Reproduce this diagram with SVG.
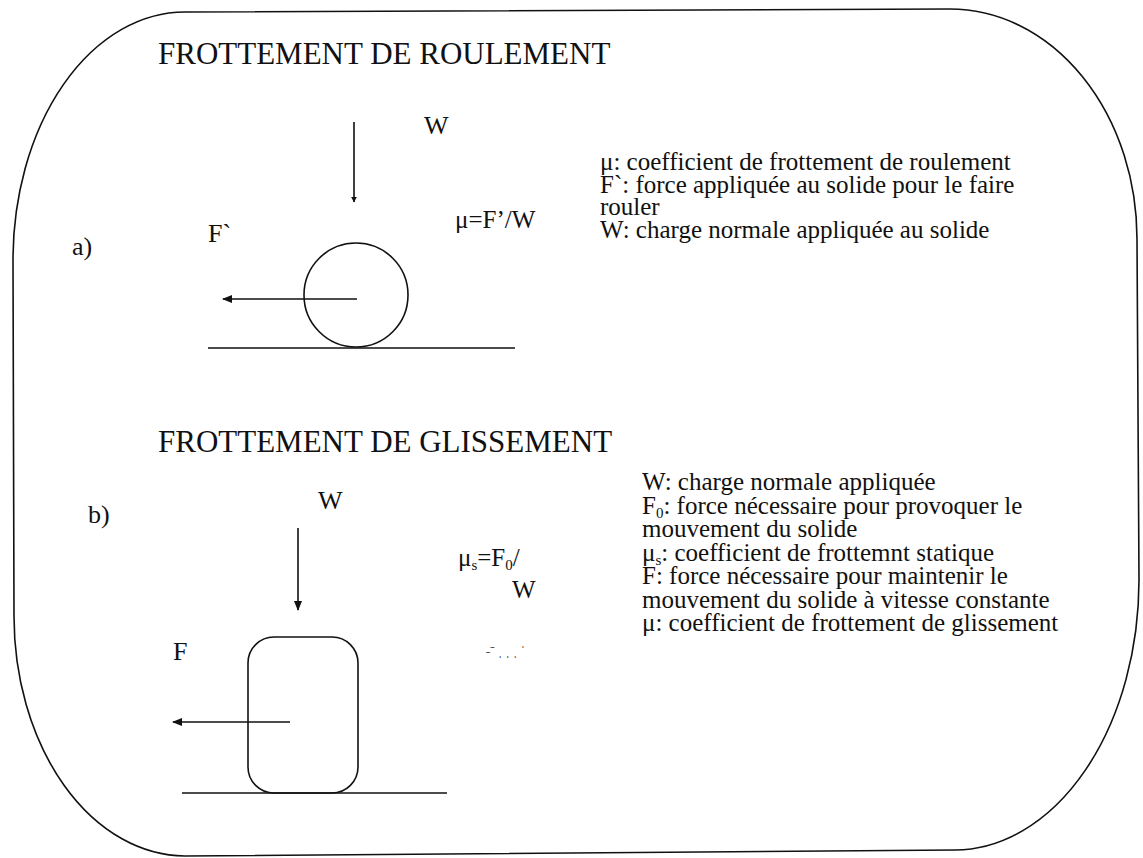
<svg xmlns="http://www.w3.org/2000/svg" width="1143" height="858" viewBox="0 0 1143 858">
<style>
text{font-family:"Liberation Serif","Times New Roman",serif;fill:#111}
.title{font-size:31px}
.lbl{font-size:26px}
.leg{font-size:25px}
.ln{stroke:#111;stroke-width:1.6;fill:none}
</style>
<defs>
<marker id="ah" viewBox="0 0 10 10" refX="9" refY="5" markerWidth="6" markerHeight="6" orient="auto" markerUnits="userSpaceOnUse">
<path d="M0,0 L10,5 L0,10 Z" fill="#111"/>
</marker>
<marker id="ah2" viewBox="0 0 10 10" refX="9" refY="5" markerWidth="10" markerHeight="10" orient="auto" markerUnits="userSpaceOnUse">
<path d="M0,1 L10,5 L0,9 Z" fill="#111"/>
</marker>
</defs>
<rect width="1143" height="858" fill="#fff"/>
<g id="border">
<path class="ln" stroke-width="2" d="M185 12 L950 9 A187 230 0 0 1 1137 240 L1139 580 A185 270 0 0 1 955 850 L185 856 A172 240 0 0 1 14 616 L13 260 A172 248 0 0 1 185 12 Z"/>
</g>
<g id="title-roulement"><text class="title" x="158" y="64">FROTTEMENT DE ROULEMENT</text></g>
<g id="label-a"><text class="lbl" x="72" y="255">a)</text></g>
<g id="wheel">
<circle class="ln" cx="356" cy="295" r="52"/>
</g>
<g id="ground-a"><line class="ln" x1="208" y1="348" x2="515" y2="348"/></g>
<g id="label-W-a"><text class="lbl" x="424" y="134">W</text></g>
<g id="label-F-a"><text class="lbl" x="208" y="242">F`</text></g>
<g id="formula-a"><text class="leg" x="455" y="228">μ=F’/W</text></g>
<g id="legend-a">
<text class="leg" x="600" y="170">μ: coefficient de frottement de roulement</text>
<text class="leg" x="600" y="192.5">F`: force appliquée au solide pour le faire</text>
<text class="leg" x="600" y="215">rouler</text>
<text class="leg" x="600" y="237.5">W: charge normale appliquée au solide</text>
</g>
<g id="title-glissement"><text class="title" x="158" y="452">FROTTEMENT DE GLISSEMENT</text></g>
<g id="label-b"><text class="lbl" x="88" y="523">b)</text></g>
<g id="block"><rect class="ln" x="248" y="637" width="110" height="156" rx="26" ry="26"/></g>
<g id="ground-b"><line class="ln" x1="182" y1="793" x2="447" y2="793"/></g>
<g id="label-W-b"><text class="lbl" x="318" y="509">W</text></g>
<g id="label-F-b"><text class="lbl" x="173" y="660">F</text></g>
<g id="formula-b">
<text class="leg" x="458" y="566">μ<tspan font-size="15" dy="4">s</tspan><tspan dy="-4">=F</tspan><tspan font-size="15" dy="4">0</tspan><tspan dy="-4">/</tspan></text>
<text class="leg" x="512" y="598">W</text>
<text x="486" y="655" font-size="13">˗ˉ ˌ ˌ ˌ ˈ</text>
</g>
<g id="legend-b">
<text class="leg" x="642" y="490">W: charge normale appliquée</text>
<text class="leg" x="642" y="513.5">F<tspan font-size="15" dy="4">0</tspan><tspan dy="-4">: force nécessaire pour provoquer le</tspan></text>
<text class="leg" x="642" y="537">mouvement du solide</text>
<text class="leg" x="642" y="560.5">μ<tspan font-size="15" dy="4">s</tspan><tspan dy="-4">: coefficient de frottemnt statique</tspan></text>
<text class="leg" x="642" y="584">F: force nécessaire pour maintenir le</text>
<text class="leg" x="642" y="607.5">mouvement du solide à vitesse constante</text>
<text class="leg" x="642" y="631">μ: coefficient de frottement de glissement</text>
</g>
<g id="connectors">
<line class="ln" x1="354" y1="122" x2="354" y2="202" marker-end="url(#ah)"/>
<line class="ln" x1="357" y1="299" x2="223" y2="299" marker-end="url(#ah2)"/>
<line class="ln" x1="298" y1="528" x2="298" y2="610" marker-end="url(#ah2)"/>
<line class="ln" x1="290" y1="722" x2="173" y2="722" marker-end="url(#ah2)"/>
</g>
</svg>
